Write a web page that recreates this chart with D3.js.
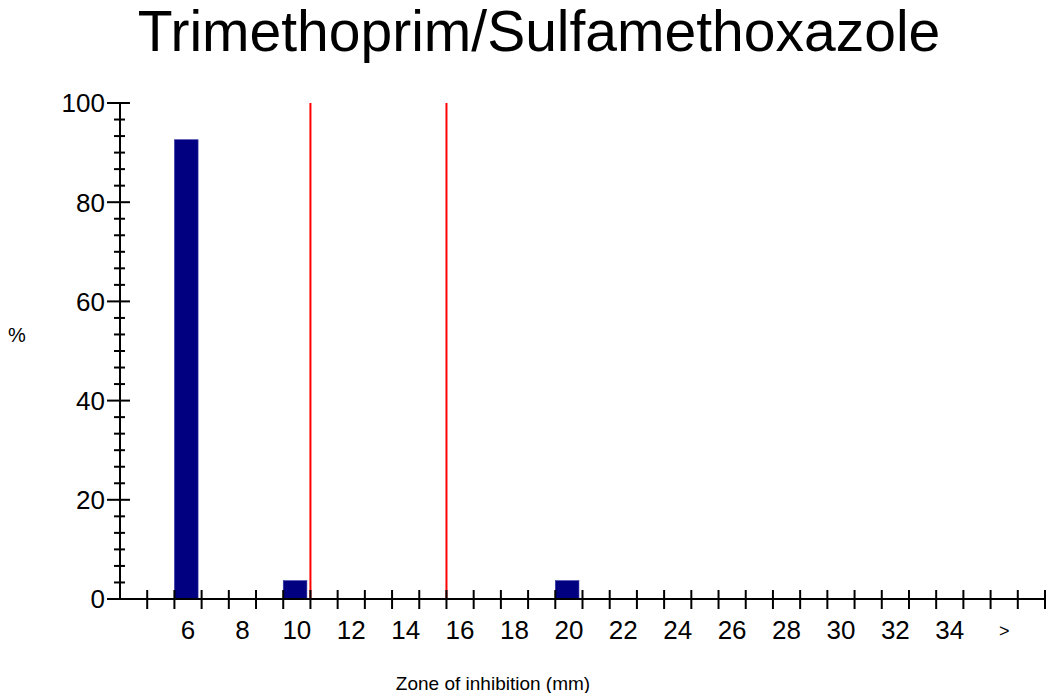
<!DOCTYPE html>
<html>
<head>
<meta charset="utf-8">
<script src="https://cdn.jsdelivr.net/npm/d3@7"></script>
<style>
  body { margin: 0; background: #fff; }
  text { font-family: "Liberation Sans", Arial, sans-serif; fill: #000; }
  .tick-label { font-size: 26px; }
</style>
</head>
<body>
<script>
// zone (mm) bins and percentage of isolates
var zones = [6, 10, 20];
var percents = [92.6, 3.7, 3.7];

// breakpoints (bin edges, drawn as red lines)
var breakpoints = [11, 16];

// x tick labels: even zones plus the ">" overflow bin
var xLabelZones = [6, 8, 10, 12, 14, 16, 18, 20, 22, 24, 26, 28, 30, 32, 34];
var overflowLabel = ">";
var overflowZone = 36;

var yMajor = [0, 20, 40, 60, 80, 100];

var margin = {top: 103, right: 3, bottom: 94, left: 120},
    width = 1048 - margin.left - margin.right,
    height = 693 - margin.top - margin.bottom;

var svg = d3.select("body").append("svg")
    .attr("width", 1048)
    .attr("height", 693);

var g = svg.append("g")
    .attr("transform", "translate(" + margin.left + "," + margin.top + ")");

// each bin k spans [k, k+1]
var x = d3.scaleLinear().domain([4, 38]).range([0, width]);
var y = d3.scaleLinear().domain([0, 100]).range([height, 0]);

var binW = x(1) - x(0);

// title
svg.append("text")
    .attr("x", 539)
    .attr("y", 51)
    .attr("text-anchor", "middle")
    .style("font-size", "57px")
    .text("Trimethoprim/Sulfamethoxazole");

// bars
g.selectAll(".bar")
    .data(zones)
  .enter().append("rect")
    .attr("class", "bar")
    .attr("x", function(d) { return x(d); })
    .attr("y", function(d, i) { return y(percents[i]); })
    .attr("width", binW * 0.87)
    .attr("height", function(d, i) { return height - y(percents[i]); })
    .attr("fill", "#000080")
    .attr("stroke", "#3a3aa8")
    .attr("stroke-width", 0.6);

// breakpoint lines
g.selectAll(".bp")
    .data(breakpoints)
  .enter().append("line")
    .attr("x1", function(d) { return x(d); })
    .attr("x2", function(d) { return x(d); })
    .attr("y1", y(100))
    .attr("y2", y(0))
    .attr("stroke", "#ff0000")
    .attr("stroke-width", 2);

// y axis line
g.append("line")
    .attr("x1", 0).attr("x2", 0)
    .attr("y1", y(100)).attr("y2", y(0))
    .attr("stroke", "#000").attr("stroke-width", 2);

// y minor ticks (6 steps between majors)
var yMinor = d3.range(0, 100, 20 / 6).filter(function(v) {
  return Math.abs(v / 20 - Math.round(v / 20)) > 1e-6;
});
g.selectAll(".yminor")
    .data(yMinor)
  .enter().append("line")
    .attr("x1", -6).attr("x2", 5)
    .attr("y1", function(d) { return y(d); })
    .attr("y2", function(d) { return y(d); })
    .attr("stroke", "#000").attr("stroke-width", 2);

g.selectAll(".ymajor")
    .data(yMajor)
  .enter().append("line")
    .attr("x1", -13).attr("x2", 10)
    .attr("y1", function(d) { return y(d); })
    .attr("y2", function(d) { return y(d); })
    .attr("stroke", "#000").attr("stroke-width", 2);

g.selectAll(".ylabel")
    .data(yMajor)
  .enter().append("text")
    .attr("class", "tick-label")
    .attr("x", -15)
    .attr("y", function(d) { return y(d); })
    .attr("dy", "0.36em")
    .attr("text-anchor", "end")
    .text(function(d) { return d; });

// x axis line
g.append("line")
    .attr("x1", 0).attr("x2", width)
    .attr("y1", height).attr("y2", height)
    .attr("stroke", "#000").attr("stroke-width", 2);

// x ticks at every bin edge
g.selectAll(".xtick")
    .data(d3.range(5, 39))
  .enter().append("line")
    .attr("x1", function(d) { return x(d); })
    .attr("x2", function(d) { return x(d); })
    .attr("y1", height - 9)
    .attr("y2", height + 10)
    .attr("stroke", "#000").attr("stroke-width", 2);

g.selectAll(".xlabel")
    .data(xLabelZones)
  .enter().append("text")
    .attr("class", "tick-label")
    .attr("x", function(d) { return x(d + 0.5); })
    .attr("y", height + 40)
    .attr("text-anchor", "middle")
    .text(function(d) { return d; });

g.append("text")
    .attr("x", x(overflowZone + 0.5))
    .attr("y", height + 38)
    .attr("text-anchor", "middle")
    .style("font-size", "18px")
    .text(overflowLabel);

// axis titles
svg.append("text")
    .attr("x", 493)
    .attr("y", 690)
    .attr("text-anchor", "middle")
    .style("font-size", "19px")
    .text("Zone of inhibition (mm)");

svg.append("text")
    .attr("x", 17)
    .attr("y", 342)
    .attr("text-anchor", "middle")
    .style("font-size", "20px")
    .text("%");
</script>
</body>
</html>
